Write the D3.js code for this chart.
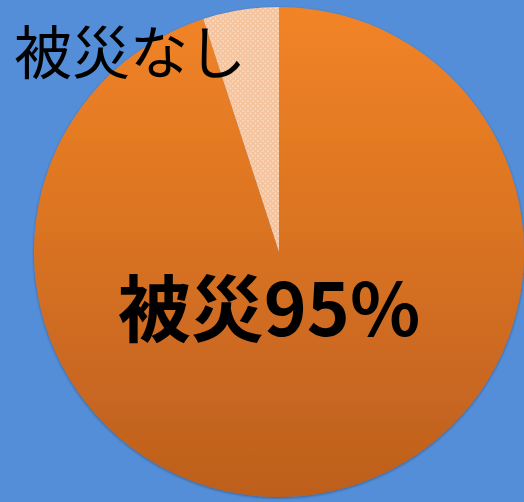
<!DOCTYPE html>
<html>
<head>
<meta charset="utf-8">
<script src="https://d3js.org/d3.v7.min.js"></script>
<style>
body { margin: 0; background: #558ed8; }
svg { display: block; }
</style>
</head>
<body>
<svg id="chart" width="524" height="502"></svg>
<script>
// data
var categories = ["被災", "被災なし"];
var values = [95, 5];
var labels = ["被災95%", "被災なし"];

var width = 524, height = 502;
var cx = 279, cy = 252, radius = 245;

var svg = d3.select("#chart");
var defs = svg.append("defs");

// orange gradient, top to bottom
var grad = defs.append("linearGradient")
  .attr("id", "orange")
  .attr("x1", 0).attr("y1", 0).attr("x2", 0).attr("y2", 1);
grad.append("stop").attr("offset", "0%").attr("stop-color", "#f28426");
grad.append("stop").attr("offset", "100%").attr("stop-color", "#bd5f1e");

// dotted fill for the small slice
var pat = defs.append("pattern")
  .attr("id", "dots")
  .attr("patternUnits", "userSpaceOnUse")
  .attr("width", 5).attr("height", 5);
pat.append("rect").attr("width", 5).attr("height", 5).attr("fill", "#f5c39c");
pat.append("circle").attr("cx", 1.5).attr("cy", 1.5).attr("r", 0.9).attr("fill", "#fbdcc4");
pat.append("circle").attr("cx", 4).attr("cy", 4).attr("r", 0.9).attr("fill", "#fbdcc4");

var shadow = defs.append("filter").attr("id", "shadow")
  .attr("x", "-10%").attr("y", "-10%").attr("width", "120%").attr("height", "120%");
shadow.append("feDropShadow")
  .attr("dx", 0).attr("dy", 1).attr("stdDeviation", 1.5)
  .attr("flood-color", "#000").attr("flood-opacity", 0.35);

var fills = d3.scaleOrdinal()
  .domain(categories)
  .range(["url(#orange)", "url(#dots)"]);

var pie = d3.pie().sort(null);
var arc = d3.arc().innerRadius(0).outerRadius(radius);

var g = svg.append("g")
  .attr("transform", "translate(" + cx + "," + cy + ")")
  .attr("filter", "url(#shadow)");

g.selectAll("path")
  .data(pie(values))
  .enter().append("path")
  .attr("d", arc)
  .attr("fill", function (d, i) { return fills(categories[i]); });

// labels
svg.append("text")
  .attr("x", 269).attr("y", 304)
  .attr("text-anchor", "middle")
  .attr("dominant-baseline", "central")
  .style("font-family", "'Noto Sans CJK JP', sans-serif")
  .style("font-weight", "bold")
  .style("font-size", "73px")
  .attr("fill", "#000")
  .text(labels[0]);

svg.append("text")
  .attr("x", 14).attr("y", 49)
  .attr("dominant-baseline", "central")
  .style("font-family", "'Noto Sans CJK JP', sans-serif")
  .style("font-size", "58px")
  .attr("fill", "#000")
  .text(labels[1]);
</script>
</body>
</html>
